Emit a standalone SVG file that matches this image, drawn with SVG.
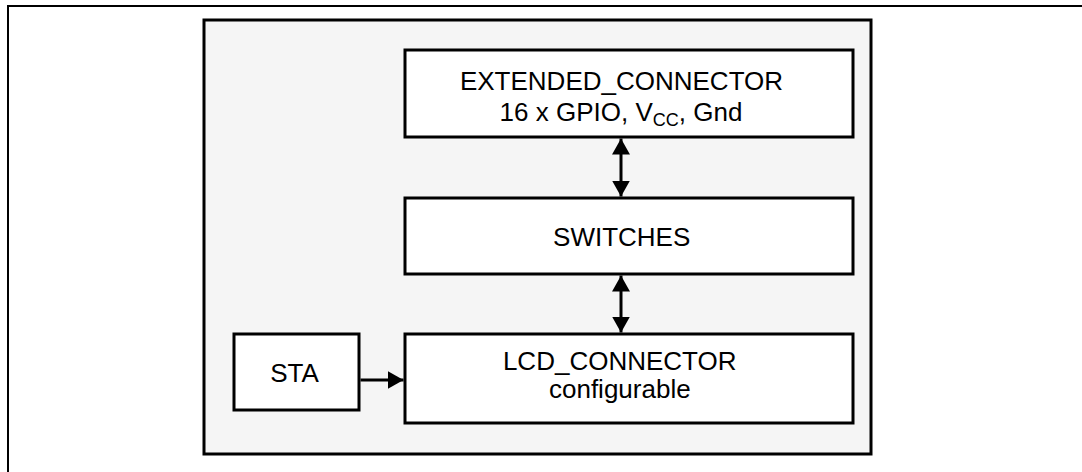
<svg xmlns="http://www.w3.org/2000/svg" width="1082" height="472" viewBox="0 0 1082 472">
  <defs>
    <style>
      .frame { fill: none; stroke: #000; stroke-width: 2; }
      .panel { fill: #f5f5f5; stroke: #000; stroke-width: 3; }
      .box { fill: #fff; stroke: #000; stroke-width: 3; }
      .lbl { font-family: "Liberation Sans", Arial, sans-serif; font-size: 26px; fill: #000; text-anchor: middle; }
      .wire { fill: none; stroke: #000; stroke-width: 3; }
    </style>
    <marker id="ah" viewBox="0 0 16 18" refX="16" refY="9" markerWidth="16" markerHeight="18" markerUnits="userSpaceOnUse" orient="auto-start-reverse">
      <path d="M0,0 L16,9 L0,18 Z" fill="#000"/>
    </marker>
  </defs>
  <rect width="1082" height="472" fill="#fff"/>
  <path class="frame" d="M8,472 V6 H1082"/>
  <g id="panel">
    <rect class="panel" x="204" y="20" width="667" height="434"/>
  </g>
  <g id="extended_connector">
    <rect class="box" x="405" y="50" width="448" height="87"/>
    <text class="lbl" x="621.5" y="89.5">EXTENDED_CONNECTOR</text>
    <text class="lbl" x="621" y="120.5">16 x GPIO, V<tspan font-size="18" dy="5">CC</tspan><tspan dy="-5">, Gnd</tspan></text>
  </g>
  <g id="switches">
    <rect class="box" x="405" y="198" width="448" height="76"/>
    <text class="lbl" x="621.7" y="246">SWITCHES</text>
  </g>
  <g id="lcd_connector">
    <rect class="box" x="405" y="334" width="448" height="89"/>
    <text class="lbl" x="619.7" y="369.5">LCD_CONNECTOR</text>
    <text class="lbl" x="619.8" y="398" font-size="24">configurable</text>
  </g>
  <g id="sta">
    <rect class="box" x="234" y="334" width="125" height="76"/>
    <text class="lbl" x="294.5" y="382.3" font-size="25">STA</text>
  </g>
  <g id="connectors">
    <line class="wire" x1="621" y1="138.5" x2="621" y2="196.5" marker-start="url(#ah)" marker-end="url(#ah)"/>
    <line class="wire" x1="621" y1="275.5" x2="621" y2="332.5" marker-start="url(#ah)" marker-end="url(#ah)"/>
    <line class="wire" x1="360.5" y1="380" x2="403.5" y2="380" marker-end="url(#ah)"/>
  </g>
</svg>
